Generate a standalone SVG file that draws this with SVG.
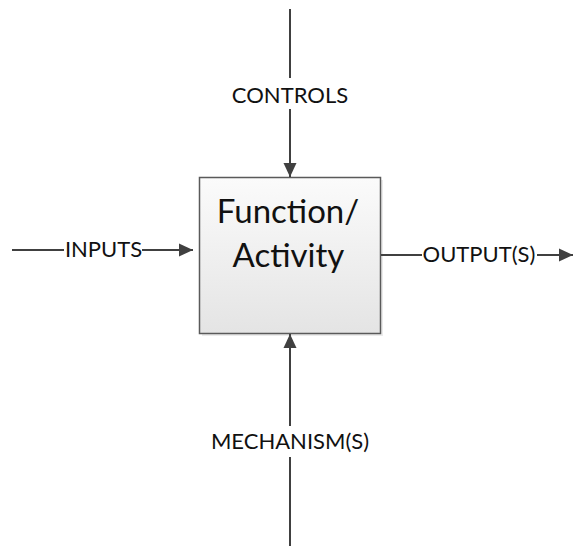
<svg xmlns="http://www.w3.org/2000/svg" width="574" height="546" viewBox="0 0 574 546">
<style>
.ln{stroke:#404040;stroke-width:2;fill:none}
.lbl{font-family:Lato,"Open Sans",sans-serif;font-size:22px;fill:#111;text-anchor:middle}
.big{font-family:Lato,"Open Sans",sans-serif;font-size:33px;fill:#111;text-anchor:middle}
</style>
<defs>
<linearGradient id="g" x1="0" y1="0" x2="0" y2="1">
<stop offset="0" stop-color="#fbfbfb"/>
<stop offset="1" stop-color="#e4e4e4"/>
</linearGradient>
<marker id="ah" markerUnits="userSpaceOnUse" markerWidth="14" markerHeight="14" viewBox="0 0 14 14" refX="14" refY="7" orient="auto">
<path d="M0,0.5 L14,7 L0,13.5 Z" fill="#404040"/>
</marker>
</defs>
<g id="function">
<rect x="202" y="180" width="181" height="156" fill="#d8d8d8" opacity="0.5"/>
<rect x="199.5" y="177.5" width="181" height="156" fill="url(#g)" stroke="#5a5a5a" stroke-width="1.5"/>
<text class="big" x="288" y="223">Function/</text>
<text class="big" x="288.5" y="267">Activity</text>
</g>
<g id="connectors">
<line class="ln" x1="290" y1="9" x2="290" y2="78"/>
<line class="ln" x1="290" y1="109" x2="290" y2="177" marker-end="url(#ah)"/>
<line class="ln" x1="12" y1="250" x2="64" y2="250"/>
<line class="ln" x1="142" y1="250" x2="193" y2="250" marker-end="url(#ah)"/>
<line class="ln" x1="381" y1="255" x2="422" y2="255"/>
<line class="ln" x1="537" y1="255" x2="573" y2="255" marker-end="url(#ah)"/>
<line class="ln" x1="290" y1="546" x2="290" y2="457"/>
<line class="ln" x1="290" y1="426" x2="290" y2="334" marker-end="url(#ah)"/>
</g>
<g id="labels">
<text class="lbl" x="290" y="102.7">CONTROLS</text>
<text class="lbl" x="103.5" y="257">INPUTS</text>
<text class="lbl" x="479" y="262">OUTPUT(S)</text>
<text class="lbl" x="290" y="449">MECHANISM(S)</text>
</g>
</svg>
